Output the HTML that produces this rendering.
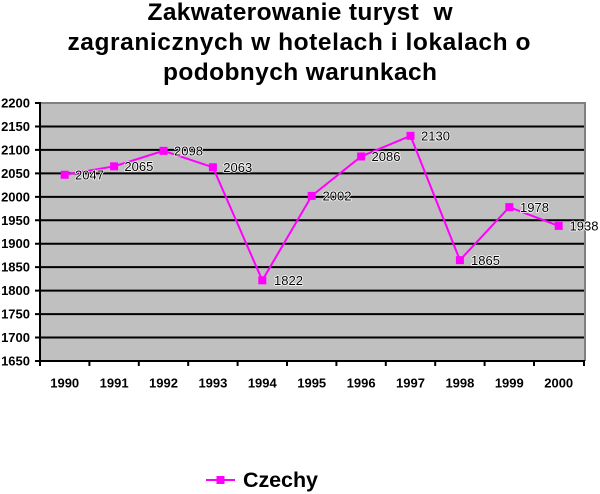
<!DOCTYPE html>
<html><head><meta charset="utf-8"><style>
html,body{margin:0;padding:0;background:#fff;}
svg{display:block;}
</style></head><body>
<svg width="600" height="494" viewBox="0 0 600 494" xmlns="http://www.w3.org/2000/svg">
<rect x="0" y="0" width="600" height="494" fill="#fff"/>
<g font-family="Liberation Sans, Arial, sans-serif" font-weight="bold" font-size="24.5" fill="#000" text-anchor="middle">
<text x="300" y="20" textLength="305" lengthAdjust="spacing" xml:space="preserve">Zakwaterowanie turyst&#160; w</text>
<text x="299" y="50" textLength="463" lengthAdjust="spacing">zagranicznych w hotelach i lokalach o</text>
<text x="300" y="80" textLength="274" lengthAdjust="spacing">podobnych warunkach</text>
</g>
<rect x="40" y="103" width="545" height="258" fill="#c0c0c0"/>
<g stroke="#000" stroke-width="2">
<line x1="35" y1="126.45" x2="584" y2="126.45"/>
<line x1="35" y1="149.91" x2="584" y2="149.91"/>
<line x1="35" y1="173.36" x2="584" y2="173.36"/>
<line x1="35" y1="196.82" x2="584" y2="196.82"/>
<line x1="35" y1="220.27" x2="584" y2="220.27"/>
<line x1="35" y1="243.73" x2="584" y2="243.73"/>
<line x1="35" y1="267.18" x2="584" y2="267.18"/>
<line x1="35" y1="290.64" x2="584" y2="290.64"/>
<line x1="35" y1="314.09" x2="584" y2="314.09"/>
<line x1="35" y1="337.55" x2="584" y2="337.55"/>
<line x1="35" y1="103" x2="40" y2="103"/>
<line x1="35" y1="361" x2="40" y2="361"/>
</g>
<g stroke="#808080" stroke-width="2" fill="none">
<line x1="40" y1="103" x2="586" y2="103"/>
<line x1="585" y1="103" x2="585" y2="361"/>
</g>
<g stroke="#000" stroke-width="2">
<line x1="40" y1="102" x2="40" y2="362"/>
<line x1="39" y1="361" x2="585" y2="361"/>
<line x1="40" y1="361" x2="40" y2="366"/>
<line x1="89.4" y1="361" x2="89.4" y2="366"/>
<line x1="138.8" y1="361" x2="138.8" y2="366"/>
<line x1="188.2" y1="361" x2="188.2" y2="366"/>
<line x1="237.6" y1="361" x2="237.6" y2="366"/>
<line x1="287" y1="361" x2="287" y2="366"/>
<line x1="336.4" y1="361" x2="336.4" y2="366"/>
<line x1="385.8" y1="361" x2="385.8" y2="366"/>
<line x1="435.2" y1="361" x2="435.2" y2="366"/>
<line x1="484.6" y1="361" x2="484.6" y2="366"/>
<line x1="534" y1="361" x2="534" y2="366"/>
<line x1="584" y1="361" x2="584" y2="366"/>
</g>
<g font-family="Liberation Sans, Arial, sans-serif" font-weight="bold" font-size="13" fill="#000" text-anchor="end">
<text x="30" y="107.5">2200</text>
<text x="30" y="131">2150</text>
<text x="30" y="154.4">2100</text>
<text x="30" y="177.9">2050</text>
<text x="30" y="201.3">2000</text>
<text x="30" y="224.8">1950</text>
<text x="30" y="248.2">1900</text>
<text x="30" y="271.7">1850</text>
<text x="30" y="295.1">1800</text>
<text x="30" y="318.6">1750</text>
<text x="30" y="342">1700</text>
<text x="30" y="365.5">1650</text>
</g>
<g font-family="Liberation Sans, Arial, sans-serif" font-weight="bold" font-size="13" fill="#000" text-anchor="middle">
<text x="64.7" y="387.5">1990</text>
<text x="114.1" y="387.5">1991</text>
<text x="163.5" y="387.5">1992</text>
<text x="212.9" y="387.5">1993</text>
<text x="262.3" y="387.5">1994</text>
<text x="311.7" y="387.5">1995</text>
<text x="361.1" y="387.5">1996</text>
<text x="410.5" y="387.5">1997</text>
<text x="459.9" y="387.5">1998</text>
<text x="509.3" y="387.5">1999</text>
<text x="558.7" y="387.5">2000</text>
</g>
<polyline fill="none" stroke="#ff00ff" stroke-width="2" stroke-linejoin="miter" points="64.7,174.77 114.1,166.33 163.5,150.85 212.9,167.27 262.3,280.32 311.7,195.88 361.1,156.48 410.5,135.84 459.9,260.15 509.3,207.14 558.7,225.9"/>
<g fill="#ff00ff">
<rect x="60.7" y="170.77" width="8" height="8"/>
<rect x="110.1" y="162.33" width="8" height="8"/>
<rect x="159.5" y="146.85" width="8" height="8"/>
<rect x="208.9" y="163.27" width="8" height="8"/>
<rect x="258.3" y="276.32" width="8" height="8"/>
<rect x="307.7" y="191.88" width="8" height="8"/>
<rect x="357.1" y="152.48" width="8" height="8"/>
<rect x="406.5" y="131.84" width="8" height="8"/>
<rect x="455.9" y="256.15" width="8" height="8"/>
<rect x="505.3" y="203.14" width="8" height="8"/>
<rect x="554.7" y="221.9" width="8" height="8"/>
</g>
<g font-family="Liberation Sans, Arial, sans-serif" font-size="13" fill="#000" stroke="#fff" stroke-width="1.5" paint-order="stroke" stroke-linejoin="round">
<text x="75" y="179.5">2047</text>
<text x="124.4" y="171">2065</text>
<text x="174" y="155.5">2098</text>
<text x="223.3" y="172">2063</text>
<text x="274" y="285">1822</text>
<text x="322.5" y="200.5">2002</text>
<text x="371.5" y="161">2086</text>
<text x="421" y="140.5">2130</text>
<text x="471" y="264.8">1865</text>
<text x="520" y="211.8">1978</text>
<text x="569.5" y="230.5">1938</text>
</g>
<line x1="206" y1="480" x2="235" y2="480" stroke="#ff00ff" stroke-width="2"/>
<rect x="216.5" y="476" width="8" height="8" fill="#ff00ff"/>
<text x="243" y="487" font-family="Liberation Sans, Arial, sans-serif" font-weight="bold" font-size="21.5" fill="#000" textLength="75" lengthAdjust="spacing">Czechy</text>
</svg>
</body></html>
